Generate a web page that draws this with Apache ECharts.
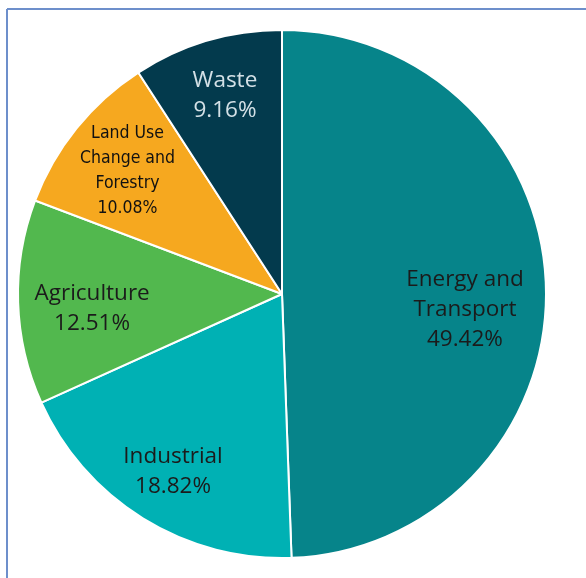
<!DOCTYPE html>
<html>
<head>
<meta charset="utf-8">
<script src="https://cdn.jsdelivr.net/npm/echarts@6/dist/echarts.min.js"></script>
<style>
html,body{margin:0;padding:0;background:#fff;}
#chart{width:586px;height:578px;}
</style>
</head>
<body>
<div id="chart"></div>
<script>
const categories = ['Energy and\nTransport', 'Industrial', 'Agriculture', 'Land Use\nChange and\nForestry', 'Waste'];
const values = [49.42, 18.82, 12.51, 10.08, 9.16];
const colors = ['#06848a', '#00b1b4', '#52b84e', '#f6a81f', '#033a4d'];
const labelColors = ['#1b1b1b', '#1b1b1b', '#1b1b1b', '#111111', '#d3e0e6'];
const labelOffsets = [[-18, 19], [-3, 7], [11, 8], [2, 3], [0, -6]];

const chart = echarts.init(document.getElementById('chart'));
const center = [282, 294];
const R = 264;

const pieData = categories.map((c, i) => ({
  name: c, value: values[i],
  itemStyle: { color: colors[i] }
}));
const labelData = categories.map((c, i) => {
  const narrow = i === 3;
  return {
    name: c, value: values[i],
    label: {
      color: labelColors[i],
      offset: labelOffsets[i],
      fontFamily: narrow ? '"DejaVu Sans Condensed", "Liberation Sans Narrow", sans-serif' : '"Open Sans", sans-serif',
      fontSize: narrow ? 17.5 : 22.5,
      lineHeight: narrow ? 25 : 30
    }
  };
});

chart.setOption({
  animation: false,
  graphic: [
    { type: 'line', shape: { x1: 7, y1: 9, x2: 586, y2: 9 }, style: { stroke: '#6d8fcb', lineWidth: 2 } },
    { type: 'line', shape: { x1: 7, y1: 9, x2: 7, y2: 578 }, style: { stroke: '#6d8fcb', lineWidth: 2 } }
  ],
  series: [
    {
      type: 'pie',
      center: center,
      radius: [0, R],
      startAngle: 90,
      clockwise: true,
      data: pieData,
      itemStyle: { borderColor: '#ffffff', borderWidth: 2 },
      label: { show: false },
      labelLine: { show: false },
      silent: true
    },
    {
      type: 'pie',
      center: center,
      radius: [132, R],
      startAngle: 90,
      clockwise: true,
      data: labelData,
      itemStyle: { color: 'rgba(0,0,0,0)' },
      label: {
        show: true,
        position: 'inside',
        formatter: p => p.name + '\n' + p.value.toFixed(2) + '%',
        align: 'center'
      },
      labelLine: { show: false },
      silent: true
    }
  ]
});
</script>
</body>
</html>
